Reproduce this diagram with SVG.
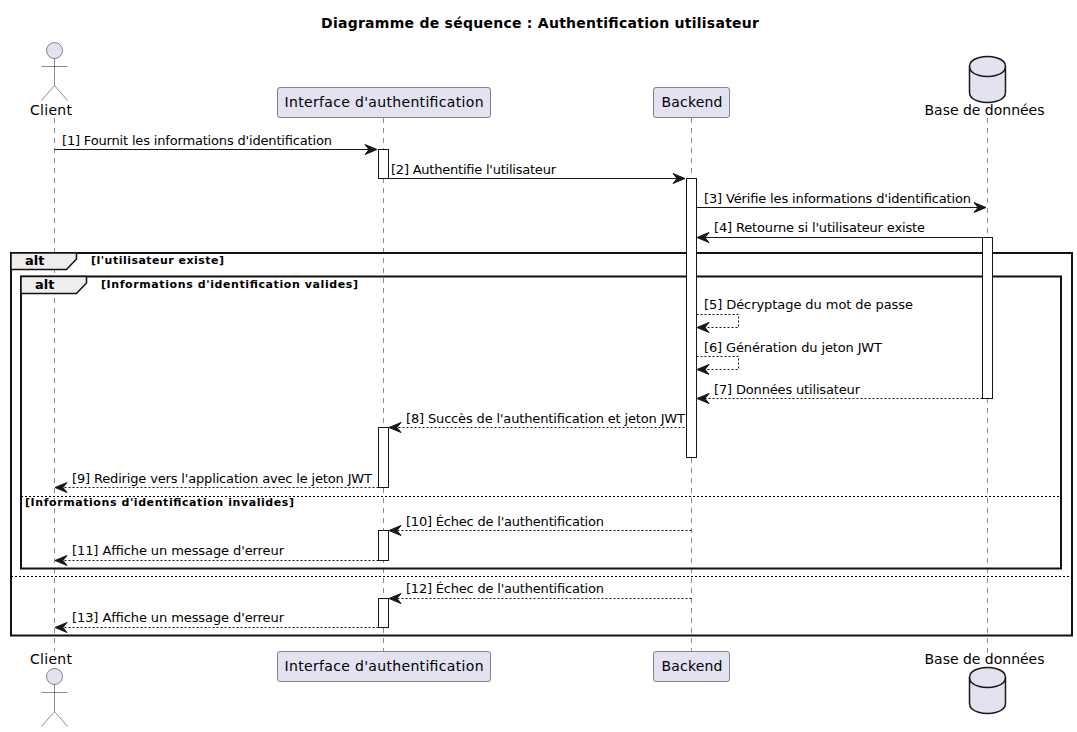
<svg xmlns="http://www.w3.org/2000/svg" width="1077" height="732" viewBox="0 0 1077 732">
<defs>
<marker id="ah" markerUnits="userSpaceOnUse" markerWidth="14" markerHeight="12" refX="12" refY="5" orient="auto-start-reverse" overflow="visible"><path d="M0,0 L12,5 L0,10 L4,5 Z" fill="#181818" stroke="#181818" stroke-width="1"/></marker>
</defs>
<style>
text{font-family:"DejaVu Sans",sans-serif;fill:#000}
.m{font-size:13px}
.p{font-size:14px}
.f{font-size:11px;font-weight:bold}
.t{font-size:14px;font-weight:bold}
.ll{stroke:#181818;stroke-width:.5;stroke-dasharray:5,5;fill:none}
.box{fill:#E2E2F0;stroke:#181818;stroke-width:.5}
.ac{fill:#fff;stroke:#181818;stroke-width:1}
.s{stroke:#181818;stroke-width:1;fill:none;marker-end:url(#ah)}
.d{stroke:#181818;stroke-width:1;stroke-dasharray:2,2;fill:none;marker-end:url(#ah)}
.fr{fill:none;stroke:#111;stroke-width:2}
.tab{fill:#EEEEEE;stroke:#111;stroke-width:1.5}
.sep{stroke:#000;stroke-width:1;stroke-dasharray:2,2}
.act{fill:#E2E2F0;stroke:#181818;stroke-width:.5}
.db{fill:#E2E2F0;stroke:#181818;stroke-width:1.5}
</style>
<rect width="1077" height="732" fill="#fff"/>
<text class="t" x="321" y="28" textLength="438">Diagramme de séquence : Authentification utilisateur</text>
<g id="lifelines">
<line class="ll" x1="54.5" y1="118" x2="54.5" y2="651"/>
<line class="ll" x1="383.5" y1="118" x2="383.5" y2="651"/>
<line class="ll" x1="691.5" y1="118" x2="691.5" y2="651"/>
<line class="ll" x1="987.5" y1="118" x2="987.5" y2="653"/>
</g>
<g id="frames">
<rect class="fr" x="11" y="253" width="1061" height="382.5"/>
<path class="tab" d="M11,253 H76.5 V259 L66.5,269.5 H11 Z"/>
<text class="m" x="25" y="265" style="font-weight:bold">alt</text>
<text class="f" x="91" y="264" textLength="133">[l'utilisateur existe]</text>
<rect class="fr" x="21" y="276.5" width="1040" height="292"/>
<path class="tab" d="M21,276.5 H86.5 V283 L76.5,293.5 H21 Z"/>
<text class="m" x="35" y="289" style="font-weight:bold">alt</text>
<text class="f" x="101" y="288" textLength="257">[Informations d'identification valides]</text>
<line class="sep" x1="21" y1="496.5" x2="1061" y2="496.5"/>
<text class="f" x="25" y="506" textLength="269">[Informations d'identification invalides]</text>
<line class="sep" x1="11" y1="576.5" x2="1072" y2="576.5"/>
</g>
<g id="activations">
<rect class="ac" x="378.5" y="149.5" width="10" height="29"/>
<rect class="ac" x="686.5" y="178.5" width="10" height="279"/>
<rect class="ac" x="982.5" y="237.5" width="10" height="161"/>
<rect class="ac" x="378.5" y="427.5" width="10" height="60"/>
<rect class="ac" x="378.5" y="530.5" width="10" height="30"/>
<rect class="ac" x="378.5" y="598.5" width="10" height="29"/>
</g>
<g id="connectors">
<line class="s" x1="54.5" y1="149.5" x2="377" y2="149.5"/>
<line class="s" x1="388.5" y1="178.5" x2="685" y2="178.5"/>
<line class="s" x1="696.5" y1="207.5" x2="986" y2="207.5"/>
<line class="s" x1="982.5" y1="237.5" x2="697" y2="237.5"/>
<path class="d" d="M696.5,314.5 H738.5 V327.5 H697"/>
<path class="d" d="M696.5,356.5 H738.5 V369.5 H697"/>
<line class="d" x1="982.5" y1="398.5" x2="697" y2="398.5"/>
<line class="d" x1="684.5" y1="427.5" x2="389" y2="427.5"/>
<line class="d" x1="378.5" y1="487.5" x2="55" y2="487.5"/>
<line class="d" x1="691.5" y1="530.5" x2="389" y2="530.5"/>
<line class="d" x1="378.5" y1="560.5" x2="55" y2="560.5"/>
<line class="d" x1="691.5" y1="598.5" x2="389" y2="598.5"/>
<line class="d" x1="378.5" y1="627.5" x2="55" y2="627.5"/>
</g>
<g id="labels">
<text class="m" x="62" y="145" textLength="270">[1] Fournit les informations d'identification</text>
<text class="m" x="391" y="174" textLength="165">[2] Authentifie l'utilisateur</text>
<text class="m" x="704" y="203" textLength="267">[3] Vérifie les informations d'identification</text>
<text class="m" x="714" y="232" textLength="211">[4] Retourne si l'utilisateur existe</text>
<text class="m" x="704" y="309" textLength="209">[5] Décryptage du mot de passe</text>
<text class="m" x="704" y="352" textLength="178">[6] Génération du jeton JWT</text>
<text class="m" x="714" y="394" textLength="146">[7] Données utilisateur</text>
<text class="m" x="406" y="423" textLength="279">[8] Succès de l'authentification et jeton JWT</text>
<text class="m" x="72" y="483" textLength="300">[9] Redirige vers l'application avec le jeton JWT</text>
<text class="m" x="406" y="526" textLength="198">[10] Échec de l'authentification</text>
<text class="m" x="72" y="555" textLength="212">[11] Affiche un message d'erreur</text>
<text class="m" x="406" y="593" textLength="198">[12] Échec de l'authentification</text>
<text class="m" x="72" y="622" textLength="212">[13] Affiche un message d'erreur</text>
</g>
<g id="client-top">
<circle class="act" cx="54.5" cy="50.5" r="8"/>
<path class="act" style="fill:none" d="M54.5,58.5 V85.5 M41.5,66.5 H67.5 M54.5,85.5 L41.5,100.5 M54.5,85.5 L67.5,100.5"/>
<text class="p" x="30" y="115" textLength="42">Client</text>
</g>
<g id="interface-top">
<rect class="box" x="277.5" y="87.5" width="213" height="30" rx="2.5"/>
<text class="p" x="284.5" y="107" textLength="199">Interface d'authentification</text>
</g>
<g id="backend-top">
<rect class="box" x="653.5" y="87.5" width="76" height="30" rx="2.5"/>
<text class="p" x="661.5" y="107" textLength="61">Backend</text>
</g>
<g id="database-top">
<path class="db" d="M969.5,66.5 C969.5,56.5 987.5,56.5 987.5,56.5 C987.5,56.5 1005.5,56.5 1005.5,66.5 V92.5 C1005.5,102.5 987.5,102.5 987.5,102.5 C987.5,102.5 969.5,102.5 969.5,92.5 Z"/>
<path class="db" style="fill:none" d="M969.5,66.5 C969.5,76.5 987.5,76.5 987.5,76.5 C987.5,76.5 1005.5,76.5 1005.5,66.5"/>
<text class="p" x="924.5" y="115" textLength="120">Base de données</text>
</g>
<g id="client-bottom">
<text class="p" x="30" y="664" textLength="42">Client</text>
<circle class="act" cx="54.5" cy="676.5" r="8"/>
<path class="act" style="fill:none" d="M54.5,684.5 V711.5 M41.5,692.5 H67.5 M54.5,711.5 L41.5,726.5 M54.5,711.5 L67.5,726.5"/>
</g>
<g id="interface-bottom">
<rect class="box" x="277.5" y="651.5" width="213" height="30" rx="2.5"/>
<text class="p" x="284.5" y="671" textLength="199">Interface d'authentification</text>
</g>
<g id="backend-bottom">
<rect class="box" x="653.5" y="651.5" width="76" height="30" rx="2.5"/>
<text class="p" x="661.5" y="671" textLength="61">Backend</text>
</g>
<g id="database-bottom">
<text class="p" x="924.5" y="664" textLength="120">Base de données</text>
<path class="db" d="M969.5,677.5 C969.5,667.5 987.5,667.5 987.5,667.5 C987.5,667.5 1005.5,667.5 1005.5,677.5 V703.5 C1005.5,713.5 987.5,713.5 987.5,713.5 C987.5,713.5 969.5,713.5 969.5,703.5 Z"/>
<path class="db" style="fill:none" d="M969.5,677.5 C969.5,687.5 987.5,687.5 987.5,687.5 C987.5,687.5 1005.5,687.5 1005.5,677.5"/>
</g>
</svg>
